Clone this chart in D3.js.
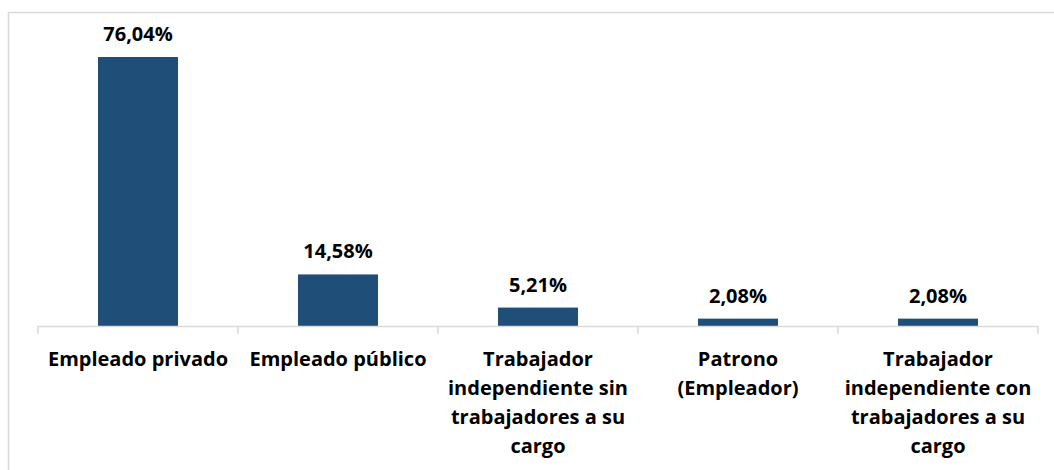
<!DOCTYPE html>
<html><head><meta charset="utf-8">
<script src="https://cdn.jsdelivr.net/npm/d3@7"></script>
<style>body{margin:0;background:#fff}svg{display:block}</style>
</head><body>
<script>
const categories = [
  ["Empleado privado"],
  ["Empleado público"],
  ["Trabajador", "independiente sin", "trabajadores a su", "cargo"],
  ["Patrono", "(Empleador)"],
  ["Trabajador", "independiente con", "trabajadores a su", "cargo"]
];
const values = [76.04, 14.58, 5.21, 2.08, 2.08];
const valueLabels = ["76,04%", "14,58%", "5,21%", "2,08%", "2,08%"];

const W = 1054, H = 470;
const svg = d3.select("body").append("svg").attr("width", W).attr("height", H);
svg.append("path").attr("d", `M8.5,${H} V12.5 H${W}`).attr("fill","none").attr("stroke","#d9d9d9").attr("stroke-width",1.5);

const x = d3.scaleBand().domain(d3.range(values.length)).range([38, 1038]).paddingInner(0.6).paddingOuter(0.3);
const y = d3.scaleLinear().domain([0, 80]).range([326, 43]);
const font = "'Open Sans', sans-serif";

svg.selectAll("rect.bar").data(values).join("rect")
  .attr("x", (d,i)=>x(i)).attr("width", x.bandwidth())
  .attr("y", d=>y(d)).attr("height", d=>y(0)-y(d)).attr("fill", "#1F4E79");

// axis line + ticks
const ax = svg.append("g").attr("stroke","#d9d9d9").attr("stroke-width",1.5);
ax.append("line").attr("x1",38).attr("x2",1038).attr("y1",326.5).attr("y2",326.5);
const bounds = d3.range(values.length+1).map(i => i < values.length ? x(i) - x.step()*x.paddingOuter() : 1038);
ax.selectAll("line.t").data(bounds).join("line").attr("class","t")
  .attr("x1",d=>d).attr("x2",d=>d).attr("y1",326).attr("y2",334);

svg.selectAll("text.v").data(values).join("text").attr("class","v")
  .attr("x",(d,i)=>x(i)+x.bandwidth()/2).attr("y",d=>y(d)-16)
  .attr("text-anchor","middle").attr("font-family",font).attr("font-weight","bold")
  .attr("font-size",20).attr("fill","#000").text((d,i)=>valueLabels[i]);

const cl = svg.selectAll("text.c").data(categories).join("text").attr("class","c")
  .attr("text-anchor","middle").attr("font-family",font).attr("font-weight","bold")
  .attr("font-size",20).attr("fill","#000");
cl.selectAll("tspan").data((d,i)=>d.map(s=>({s,i}))).join("tspan")
  .attr("x", d=>x(d.i)+x.bandwidth()/2).attr("y",(d,j)=>366+j*29).text(d=>d.s);
</script>
</body></html>
